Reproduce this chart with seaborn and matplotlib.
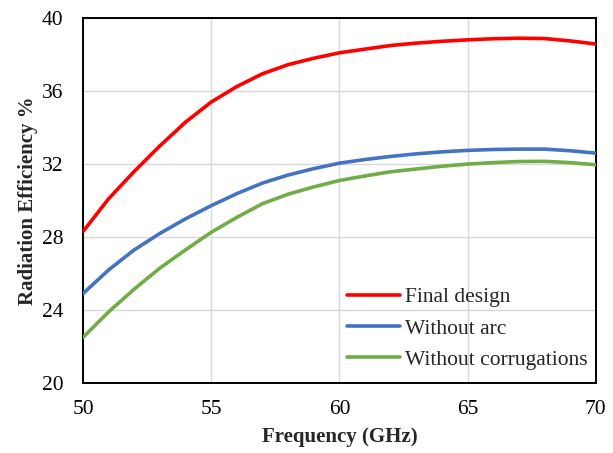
import matplotlib
matplotlib.use("Agg")
import matplotlib.pyplot as plt
import seaborn as sns
import pandas as pd

freq = [50, 51, 52, 53, 54, 55, 56, 57, 58, 59, 60,
        61, 62, 63, 64, 65, 66, 67, 68, 69, 70]
final_design = [28.3, 30.1, 31.6, 33.0, 34.3, 35.4, 36.25, 36.95, 37.45, 37.8, 38.1,
                38.3, 38.5, 38.63, 38.73, 38.81, 38.87, 38.9, 38.88, 38.75, 38.58]
without_arc = [24.9, 26.2, 27.3, 28.2, 29.0, 29.72, 30.38, 30.96, 31.4, 31.75, 32.05,
               32.25, 32.42, 32.56, 32.67, 32.75, 32.8, 32.82, 32.82, 32.73, 32.6]
without_corr = [22.5, 23.9, 25.15, 26.3, 27.3, 28.26, 29.08, 29.83, 30.35, 30.75, 31.1,
                31.35, 31.58, 31.73, 31.88, 32.0, 32.08, 32.14, 32.15, 32.08, 31.96]

series_names = ["Final design", "Without arc", "Without corrugations"]
colors = ["#FF0000", "#4472C4", "#70AD47"]
x_ticks = [50, 55, 60, 65, 70]
y_ticks = [20, 24, 28, 32, 36, 40]

df = pd.DataFrame({
    "Frequency": freq * 3,
    "Efficiency": final_design + without_arc + without_corr,
    "Series": [series_names[0]] * len(freq) + [series_names[1]] * len(freq)
              + [series_names[2]] * len(freq),
})

sns.set_theme(style="white")
plt.rcParams["font.family"] = ["Liberation Serif", "DejaVu Serif"]

fig = plt.figure(figsize=(6.13, 4.53), dpi=100)
ax = fig.add_axes([0.1354, 0.1545, 0.8366, 0.8055])

sns.lineplot(data=df, x="Frequency", y="Efficiency", hue="Series",
             hue_order=series_names, palette=colors, linewidth=2.6,
             ax=ax, zorder=3)

ax.set_xlim(50, 70)
ax.set_ylim(20, 40)
ax.set_xticks(x_ticks)
ax.set_yticks(y_ticks)
ax.grid(True, color="#D9D9D9", linewidth=1.0, zorder=0)
ax.set_axisbelow(True)
for s in ax.spines.values():
    s.set_color("black")
    s.set_linewidth(1.4)
ax.tick_params(axis="both", labelsize=15.5, length=0, colors="black")
ax.tick_params(axis="x", pad=12)
ax.tick_params(axis="y", pad=14)

ax.set_xlabel("Frequency (GHz)", fontsize=15, fontweight="bold", labelpad=6)
ax.set_ylabel("Radiation Efficiency %", fontsize=15, fontweight="bold", labelpad=3)

leg = ax.legend(loc="upper left", bbox_to_anchor=(0.515, 0.262), frameon=False,
                fontsize=15.5, handlelength=2.45, handletextpad=0.25,
                labelspacing=0.52, borderaxespad=0, borderpad=0)

fig.savefig("out.png", dpi=100)
